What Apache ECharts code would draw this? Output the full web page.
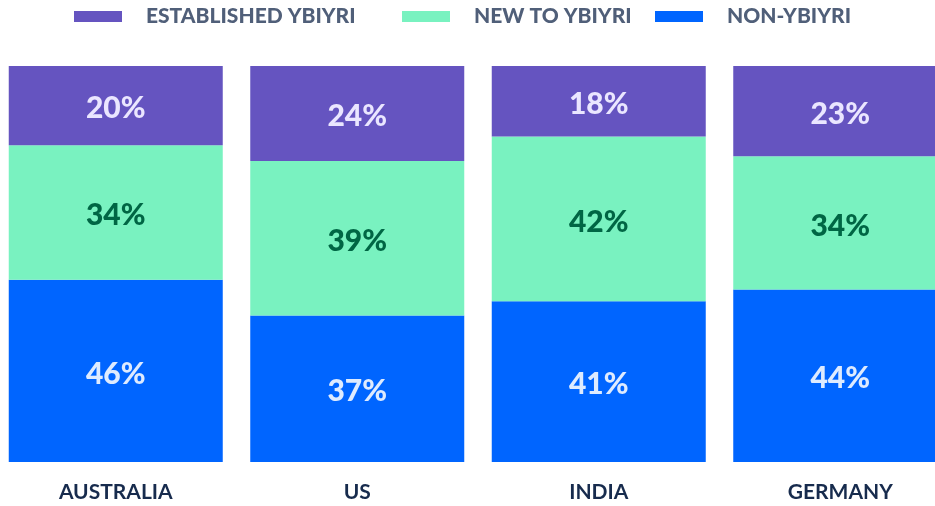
<!DOCTYPE html>
<html>
<head>
<meta charset="utf-8">
<script src="https://cdn.jsdelivr.net/npm/echarts@6/dist/echarts.min.js"></script>
<style>
  html, body { margin: 0; padding: 0; background: #fff; }
  #chart { width: 935px; height: 506px; }
</style>
</head>
<body>
<div id="chart"></div>
<script>
// data
const countries = ['AUSTRALIA', 'US', 'INDIA', 'GERMANY']
const seriesNames = ['ESTABLISHED YBIYRI', 'NEW TO YBIYRI', 'NON-YBIYRI']
const established = [20, 24, 18, 23]
const newTo = [34, 39, 42, 34]
const nonUser = [46, 37, 41, 44]

const colors = ['#6554C0', '#79F2C0', '#0065FF']
const labelColors = ['#EAE6FF', '#006644', '#DEEBFF']
const legendLeft = [74, 402, 655]

// bars are drawn as 100% stacks, labels show the printed values
const totals = countries.map((c, i) => established[i] + newTo[i] + nonUser[i])
const values = [established, newTo, nonUser]
const order = [2, 1, 0]

const chart = echarts.init(document.getElementById('chart'))
chart.setOption({
  animation: false,
  // one legend per item so each can sit where it does in the picture
  legend: seriesNames.map((name, k) => ({
    top: 6,
    left: legendLeft[k],
    padding: 0,
    itemWidth: 48,
    itemHeight: 11,
    icon: 'rect',
    data: [name],
    textStyle: {
      fontFamily: 'Lato',
      fontWeight: 900,
      fontSize: 21,
      color: '#505F79',
      padding: [0, 0, 0, 19]
    }
  })),
  grid: {
    top: 66,
    bottom: 44,
    left: -5,
    right: -26,
    outerBoundsMode: 'none'
  },
  xAxis: {
    type: 'category',
    data: countries,
    axisLine: { show: false },
    axisTick: { show: false },
    axisLabel: {
      margin: 20,
      fontFamily: 'Lato',
      fontWeight: 'bold',
      fontSize: 21,
      color: '#172B4D'
    }
  },
  yAxis: {
    type: 'value',
    min: 0,
    max: 100,
    show: false
  },
  series: order.map(k => ({
    name: seriesNames[k],
    type: 'bar',
    stack: 'all',
    barWidth: 214,
    itemStyle: { color: colors[k] },
    label: {
      show: true,
      position: 'inside',
      offset: [0, 3],
      fontFamily: 'Lato',
      fontWeight: 900,
      fontSize: 30,
      color: labelColors[k],
      formatter: p => values[k][p.dataIndex] + '%'
    },
    data: values[k].map((v, i) => v / totals[i] * 100)
  }))
})
</script>
</body>
</html>
